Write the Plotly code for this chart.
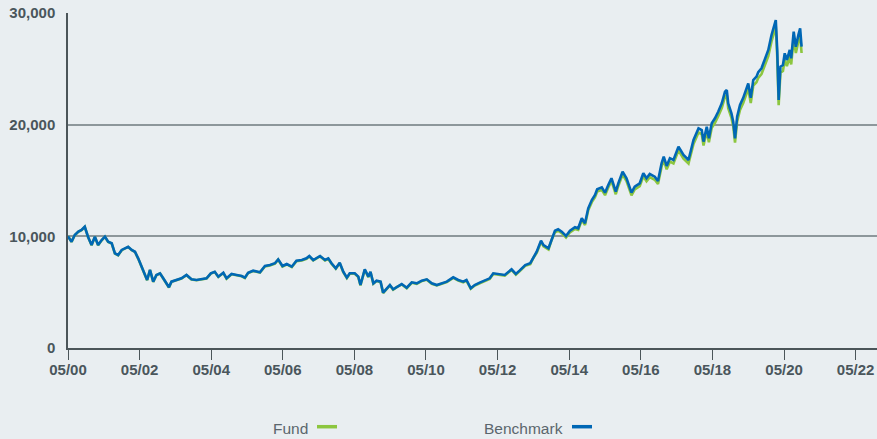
import pandas as pd
import plotly.graph_objects as go

# Decimal-year positions of the readings
dates_dec = [
    2000.33, 2000.43, 2000.52, 2000.62, 2000.71, 2000.80, 2000.89, 2000.99, 2001.08, 2001.17,
    2001.27, 2001.36, 2001.45, 2001.55, 2001.64, 2001.73, 2001.83, 2001.92, 2002.01, 2002.11,
    2002.20, 2002.29, 2002.39, 2002.48, 2002.54, 2002.62, 2002.71, 2002.80, 2002.90, 2002.99,
    2003.08, 2003.15, 2003.22, 2003.36, 2003.50, 2003.64, 2003.78, 2003.92, 2004.06, 2004.20,
    2004.32, 2004.43, 2004.53, 2004.67, 2004.76, 2004.90, 2005.04, 2005.18, 2005.27, 2005.36,
    2005.50, 2005.69, 2005.83, 2005.97, 2006.11, 2006.20, 2006.32, 2006.44, 2006.58, 2006.71,
    2006.86, 2006.99, 2007.07, 2007.18, 2007.37, 2007.51, 2007.60, 2007.69, 2007.81, 2007.92,
    2008.02, 2008.12, 2008.20, 2008.34, 2008.44, 2008.50, 2008.62, 2008.72, 2008.78, 2008.86,
    2008.95, 2009.06, 2009.13, 2009.23, 2009.32, 2009.41, 2009.51, 2009.65, 2009.79, 2009.93,
    2010.07, 2010.21, 2010.35, 2010.49, 2010.63, 2010.77, 2010.91, 2011.09, 2011.23, 2011.37,
    2011.46, 2011.58, 2011.69, 2011.83, 2011.97, 2012.11, 2012.21, 2012.34, 2012.53, 2012.72,
    2012.84, 2012.95, 2013.04, 2013.10, 2013.24, 2013.33, 2013.42, 2013.54, 2013.61, 2013.75,
    2013.84, 2013.93, 2014.02, 2014.12, 2014.24, 2014.35, 2014.49, 2014.58, 2014.68, 2014.77,
    2014.86, 2014.96, 2015.05, 2015.11, 2015.24, 2015.33, 2015.42, 2015.51, 2015.63, 2015.70,
    2015.82, 2015.93, 2016.07, 2016.16, 2016.30, 2016.40, 2016.49, 2016.58, 2016.72, 2016.81,
    2016.91, 2016.97, 2017.05, 2017.14, 2017.24, 2017.38, 2017.52, 2017.66, 2017.80, 2017.94,
    2018.03, 2018.08, 2018.17, 2018.23, 2018.31, 2018.40, 2018.49, 2018.59, 2018.68, 2018.73,
    2018.77, 2018.86, 2018.91, 2018.96, 2019.02, 2019.10, 2019.19, 2019.27, 2019.33, 2019.40,
    2019.47, 2019.56, 2019.61, 2019.70, 2019.79, 2019.89, 2019.98, 2020.04, 2020.10, 2020.14,
    2020.18, 2020.23, 2020.30, 2020.35, 2020.41, 2020.49, 2020.53, 2020.60, 2020.66, 2020.73,
    2020.78, 2020.82,
]

benchmark = [
    10000, 9520, 10120, 10420, 10570, 10860, 9970, 9220, 9970, 9220,
    9670, 9970, 9520, 9380, 8480, 8330, 8780, 8930, 9070, 8780,
    8620, 8030, 7280, 6690, 6090, 6990, 5940, 6540, 6690, 6240,
    5790, 5440, 5940, 6090, 6240, 6540, 6150, 6090, 6150, 6240,
    6690, 6830, 6390, 6740, 6240, 6630, 6540, 6450, 6300, 6740,
    6920, 6780, 7340, 7430, 7590, 7940, 7340, 7520, 7280, 7820,
    7880, 8030, 8240, 7880, 8240, 7880, 8030, 7590, 7140, 7640,
    6830, 6300, 6690, 6690, 6390, 5640, 7050, 6390, 6830, 5790,
    6030, 5940, 4950, 5350, 5640, 5260, 5490, 5730, 5400, 5880,
    5790, 6030, 6150, 5790, 5640, 5790, 5940, 6330, 6090, 5940,
    6090, 5350, 5640, 5850, 6030, 6240, 6690, 6630, 6540, 7050,
    6630, 6950, 7230, 7430, 7590, 8180, 8620, 9610, 9220, 8930,
    9820, 10500, 10630, 10420, 10030, 10500, 10810, 10720, 11620, 11170,
    12510, 13250, 13700, 14210, 14390, 13910, 14600, 15200, 14000, 14750,
    15790, 15200, 13910, 14450, 14750, 15650, 15200, 15580, 15340, 14950,
    16540, 17130, 16300, 17000, 16840, 18030, 17280, 16840, 18630, 19670,
    19520, 18480, 19820, 18780, 20120, 20570, 21160, 21910, 22950, 23100,
    21910, 21020, 20270, 18780, 20710, 21760, 22400, 23100, 23700, 22400,
    24000, 24300, 24700, 25050, 25790, 26690, 28030, 28630, 29370, 26690,
    22210, 25190, 25340, 26390, 25790, 26690, 25940, 28330, 26980, 28030,
    28630, 26980,
]

fund = [
    10000, 9510, 10100, 10400, 10550, 10840, 9950, 9200, 9950, 9200,
    9650, 9950, 9500, 9360, 8460, 8310, 8760, 8910, 9050, 8760,
    8600, 8010, 7260, 6670, 6070, 6970, 5920, 6520, 6670, 6220,
    5770, 5420, 5920, 6070, 6220, 6520, 6130, 6070, 6130, 6220,
    6660, 6800, 6360, 6710, 6210, 6600, 6510, 6420, 6270, 6710,
    6890, 6750, 7300, 7390, 7550, 7900, 7300, 7480, 7240, 7780,
    7840, 7990, 8200, 7840, 8200, 7840, 7990, 7550, 7100, 7600,
    6790, 6260, 6650, 6650, 6350, 5600, 7010, 6350, 6790, 5750,
    5990, 5900, 4920, 5310, 5600, 5220, 5450, 5690, 5360, 5840,
    5750, 5990, 6110, 5750, 5600, 5750, 5900, 6280, 6040, 5890,
    6040, 5300, 5590, 5800, 5980, 6190, 6630, 6570, 6480, 6990,
    6570, 6890, 7160, 7360, 7510, 8090, 8520, 9500, 9110, 8820,
    9700, 10370, 10500, 10290, 9900, 10360, 10660, 10570, 11460, 11010,
    12330, 13060, 13500, 14000, 14170, 13690, 14370, 14960, 13770, 14510,
    15530, 14950, 13670, 14200, 14490, 15380, 14930, 15300, 15060, 14680,
    16240, 16820, 16000, 16690, 16530, 17700, 16960, 16530, 18280, 19300,
    19150, 18130, 19440, 18420, 19730, 20170, 20750, 21480, 22500, 22650,
    21480, 20600, 19860, 18400, 20290, 21320, 21940, 22630, 23220, 21940,
    23510, 23800, 24190, 24530, 25260, 26140, 27460, 28050, 28780, 26140,
    21740, 24660, 24800, 25830, 25240, 26130, 25390, 27740, 26410, 27450,
    28040, 26420,
]

x_tick_dates = ["2000-05-01", "2002-05-01", "2004-05-01", "2006-05-01", "2008-05-01",
                "2010-05-01", "2012-05-01", "2014-05-01", "2016-05-01", "2018-05-01",
                "2020-05-01", "2022-05-01"]
x_tick_labels = ["05/00", "05/02", "05/04", "05/06", "05/08", "05/10",
                 "05/12", "05/14", "05/16", "05/18", "05/20", "05/22"]
y_tick_vals = [0, 10000, 20000, 30000]
y_tick_labels = ["0", "10,000", "20,000", "30,000"]
series_names = ["Fund", "Benchmark"]

assert len(dates_dec) == len(benchmark) == len(fund)


def dec_to_date(d):
    year = int(d)
    start = pd.Timestamp(year=year, month=1, day=1)
    return start + pd.Timedelta(days=(d - year) * 365.25)


dates = [dec_to_date(d) for d in dates_dec]

BG = "#e9eef1"
AXIS = "#4b5559"
GRID = "#8d979b"
TICKTXT = "#4a565c"
GREEN = "#8cc63f"
BLUE = "#0067b5"
FONT = "Liberation Sans, Arial, sans-serif"

fig = go.Figure()
fig.add_trace(go.Scatter(x=dates, y=fund, mode="lines", name=series_names[0],
                         line=dict(color=GREEN, width=2.6), showlegend=False))
fig.add_trace(go.Scatter(x=dates, y=benchmark, mode="lines", name=series_names[1],
                         line=dict(color=BLUE, width=2.6), showlegend=False))

W, H = 877, 439
L, R, T, B = 68, 0, 13, 91
pw, ph = W - L - R, H - T - B


def px_x(px):
    return (px - L) / pw


def px_y(py):
    return (H - B - py) / ph


fig.update_layout(
    width=W, height=H,
    margin=dict(l=L, r=R, t=T, b=B),
    paper_bgcolor=BG, plot_bgcolor=BG,
    showlegend=False,
    xaxis=dict(
        type="date",
        range=["2000-05-01", "2022-12-05"],
        tickmode="array", tickvals=x_tick_dates, ticktext=x_tick_labels,
        showgrid=False, zeroline=False,
        showline=True, linecolor=AXIS, linewidth=2,
        ticks="outside", ticklen=10, tickwidth=1, tickcolor=AXIS,
        ticklabelstandoff=-3,
        tickfont=dict(family=FONT, size=15, color=TICKTXT, weight="bold"),
        fixedrange=True,
    ),
    yaxis=dict(
        range=[0, 30000],
        tickmode="array", tickvals=y_tick_vals, ticktext=y_tick_labels,
        showgrid=True, gridcolor=GRID, gridwidth=1.5,
        zeroline=False,
        showline=True, linecolor=AXIS, linewidth=1.5,
        ticks="", ticklabelstandoff=8,
        tickfont=dict(family=FONT, size=15, color=TICKTXT, weight="bold"),
        fixedrange=True,
    ),
)

# Legend drawn with text before the swatch, as in the reference
legend_items = [(series_names[0], GREEN, 309, 317, 337),
                (series_names[1], BLUE, 564, 572, 592)]
for name, col, txt_right, sx0, sx1 in legend_items:
    fig.add_annotation(x=px_x(txt_right), y=px_y(428.5), xref="paper", yref="paper",
                       text=name, showarrow=False, xanchor="right", yanchor="middle",
                       borderpad=0,
                       font=dict(family=FONT, size=15.5, color="#5b666d"))
    fig.add_shape(type="line", xref="paper", yref="paper",
                  x0=px_x(sx0), x1=px_x(sx1), y0=px_y(426.7), y1=px_y(426.7),
                  line=dict(color=col, width=3.5))

fig.write_html(
    "out.html",
    config={"displayModeBar": False},
    post_script="document.body.style.margin='0';document.body.style.overflow='hidden';",
)
